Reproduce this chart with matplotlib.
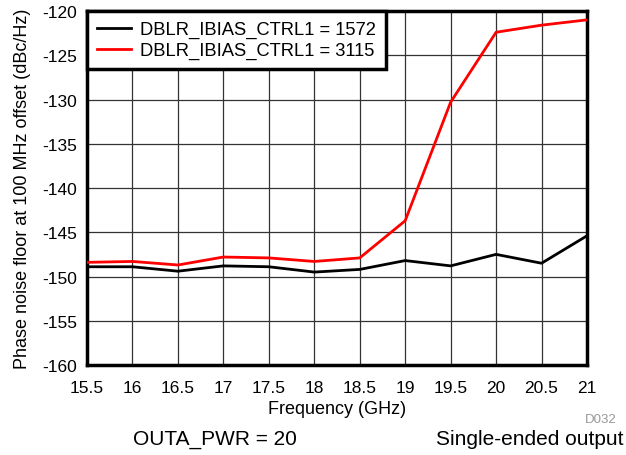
import matplotlib
matplotlib.use("Agg")
import matplotlib.pyplot as plt

plt.rcParams['font.family'] = ['Liberation Sans', 'DejaVu Sans']
plt.rcParams['axes.unicode_minus'] = False

freq_ghz = [15.5, 16, 16.5, 17, 17.5, 18, 18.5, 19, 19.5, 20, 20.5, 21]
pn_1572 = [-148.9, -148.9, -149.4, -148.8, -148.9, -149.5, -149.2, -148.2, -148.8, -147.5, -148.5, -145.4]
pn_3115 = [-148.4, -148.3, -148.7, -147.8, -147.9, -148.3, -147.9, -143.7, -130.3, -122.4, -121.6, -121.0]
x_ticks = [15.5, 16, 16.5, 17, 17.5, 18, 18.5, 19, 19.5, 20, 20.5, 21]
x_tick_labels = ['15.5', '16', '16.5', '17', '17.5', '18', '18.5', '19', '19.5', '20', '20.5', '21']
y_ticks = [-160, -155, -150, -145, -140, -135, -130, -125, -120]
series_labels = ['DBLR_IBIAS_CTRL1 = 1572', 'DBLR_IBIAS_CTRL1 = 3115']

fig = plt.figure(figsize=(6.26, 4.56), dpi=100)
ax = fig.add_axes([87 / 626, 1 - 366 / 456, 500 / 626, 354 / 456])

ax.plot(freq_ghz, pn_1572, color='black', lw=2.0, label=series_labels[0], zorder=3)
ax.plot(freq_ghz, pn_3115, color='#ff0000', lw=2.0, label=series_labels[1], zorder=3)

ax.set_xlim(15.5, 21)
ax.set_ylim(-160, -120)
ax.set_xticks(x_ticks)
ax.set_xticklabels(x_tick_labels)
ax.set_yticks(y_ticks)
ax.tick_params(axis='both', length=0, labelsize=12.5)
ax.tick_params(axis='x', pad=11)
ax.tick_params(axis='y', pad=7)
ax.grid(True, color='#333333', lw=0.9)
ax.set_axisbelow(True)
for s in ax.spines.values():
    s.set_linewidth(2.5)
    s.set_color('black')

ax.set_xlabel('Frequency (GHz)', fontsize=13, labelpad=3.5)
ax.set_ylabel('Phase noise floor at 100 MHz offset (dBc/Hz)', fontsize=13)
ax.yaxis.set_label_coords(-0.112, 0.5)

leg = ax.legend(loc='upper left', bbox_to_anchor=(0, 1), fontsize=13.2, frameon=True,
                fancybox=False, framealpha=1, edgecolor='black', borderaxespad=0,
                handlelength=1.85, handletextpad=0.5, labelspacing=0.2,
                borderpad=0.55)
leg.get_frame().set_linewidth(2.5)
leg.set_zorder(5)

fig.text(617 / 626, 1 - 420 / 456, 'D032', fontsize=9.5, color='#999999', ha='right', va='center')
fig.text(215 / 626, 1 - 440 / 456, 'OUTA_PWR = 20', fontsize=15, ha='center', va='center')
fig.text(624 / 626, 1 - 440 / 456, 'Single-ended output', fontsize=15, ha='right', va='center')

fig.savefig('out.png', dpi=100)
